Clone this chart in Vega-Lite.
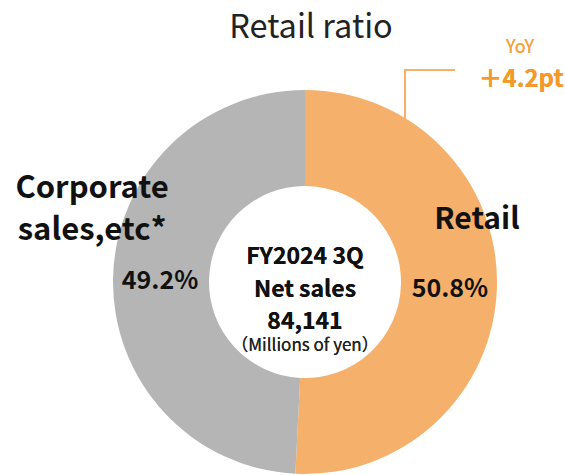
{
  "$schema": "https://vega.github.io/schema/vega-lite/v6.json",
  "autosize": "none",
  "width": 384,
  "height": 384,
  "padding": {"left": 113, "top": 90, "right": 68, "bottom": 1},
  "background": "white",
  "config": {"view": {"stroke": null}, "font": "Noto Sans CJK JP"},
  "title": {
    "text": "Retail ratio",
    "font": "Noto Sans CJK JP",
    "fontSize": 32.5,
    "fontWeight": "normal",
    "color": "#222222",
    "anchor": "middle",
    "frame": "group",
    "dx": 6,
    "offset": -6
  },
  "data": {
    "values": [
      {"segment": "Retail", "share": 0.508},
      {"segment": "Corporate sales,etc*", "share": 0.492}
    ]
  },
  "layer": [
    {
      "mark": {"type": "arc", "outerRadius": 192, "innerRadius": 96},
      "encoding": {
        "theta": {"field": "share", "type": "quantitative", "stack": true},
        "order": {"field": "segment", "sort": "descending"},
        "color": {
          "field": "segment",
          "type": "nominal",
          "scale": {"domain": ["Retail", "Corporate sales,etc*"], "range": ["#F5B16B", "#B5B5B5"]},
          "legend": null
        }
      }
    },
    {
      "mark": {"type": "text", "radius": 145, "dy": 3, "fontSize": 25, "fontWeight": "bold", "color": "#111111", "baseline": "middle"},
      "encoding": {
        "theta": {"field": "share", "type": "quantitative", "stack": true},
        "order": {"field": "segment", "sort": "descending"},
        "text": {"field": "share", "type": "quantitative", "format": ".1%"}
      }
    },
    {
      "mark": {"type": "text", "radius": 172, "dy": -66, "fontSize": 30, "fontWeight": "bold", "color": "#111111", "baseline": "middle"},
      "encoding": {
        "theta": {"field": "share", "type": "quantitative", "stack": true},
        "order": {"field": "segment", "sort": "descending"},
        "text": {"condition": {"test": "datum.segment === 'Retail'", "field": "segment"}, "value": ""}
      }
    },
    {
      "mark": {"type": "text", "radius": 213, "dy": -88, "fontSize": 31, "fontWeight": "bold", "color": "#111111", "baseline": "middle", "lineBreak": " ", "lineHeight": 42},
      "encoding": {
        "theta": {"field": "share", "type": "quantitative", "stack": true},
        "order": {"field": "segment", "sort": "descending"},
        "text": {"condition": {"test": "datum.segment !== 'Retail'", "field": "segment"}, "value": ""}
      }
    },
    {
      "mark": {"type": "text", "fontSize": 23, "fontWeight": "bold", "color": "#111111", "baseline": "middle", "lineBreak": "|", "lineHeight": 32.5, "text": "FY2024 3Q|Net sales|84,141"},
      "encoding": {
        "x": {"datum": 0, "type": "quantitative", "scale": {"domain": [-1, 1], "nice": false, "zero": false}, "axis": null},
        "y": {"datum": 0.13, "type": "quantitative", "scale": {"domain": [-1, 1], "nice": false, "zero": false}, "axis": null}
      }
    },
    {
      "mark": {"type": "text", "fontSize": 17, "fontWeight": "normal", "color": "#222222", "baseline": "middle", "text": "（Millions of yen）"},
      "encoding": {
        "x": {"datum": 0, "type": "quantitative"},
        "y": {"datum": -0.335, "type": "quantitative"}
      }
    },
    {
      "mark": {"type": "rule", "color": "#F5B06B", "strokeWidth": 2},
      "encoding": {
        "x": {"datum": 0.521, "type": "quantitative"},
        "y": {"datum": 0.844, "type": "quantitative"},
        "y2": {"datum": 1.104}
      }
    },
    {
      "mark": {"type": "rule", "color": "#F5B06B", "strokeWidth": 2},
      "encoding": {
        "x": {"datum": 0.516, "type": "quantitative"},
        "x2": {"datum": 0.781},
        "y": {"datum": 1.104, "type": "quantitative"}
      }
    },
    {
      "mark": {"type": "text", "fontSize": 18, "color": "#F5A33B", "baseline": "middle", "text": "YoY"},
      "encoding": {
        "x": {"datum": 1.12, "type": "quantitative"},
        "y": {"datum": 1.219, "type": "quantitative"}
      }
    },
    {
      "mark": {"type": "text", "fontSize": 24, "fontWeight": "bold", "color": "#F39A2A", "baseline": "middle", "text": "＋4.2pt"},
      "encoding": {
        "x": {"datum": 1.125, "type": "quantitative"},
        "y": {"datum": 1.052, "type": "quantitative"}
      }
    }
  ]
}
